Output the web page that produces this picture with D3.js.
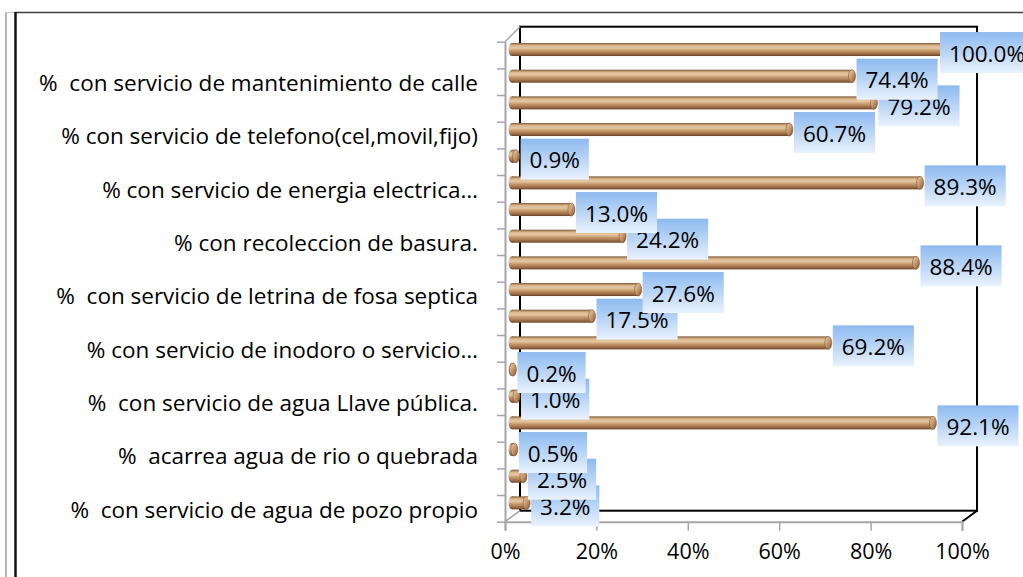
<!DOCTYPE html>
<html>
<head>
<meta charset="utf-8">
<script src="https://cdn.jsdelivr.net/npm/d3@7/dist/d3.min.js"></script>
<style>
  html, body { margin: 0; padding: 0; background: #fff; }
  svg { display: block; font-family: "Open Sans", Lato, sans-serif; }
  svg text { white-space: pre; }
</style>
</head>
<body>
<svg id="bar-chart"></svg>
<script>
// categories from bottom to top; null = label not shown in the picture
const categories = [
  "%  con servicio de agua de pozo propio",
  null,
  "%  acarrea agua de rio o quebrada",
  null,
  "%  con servicio de agua Llave pública.",
  null,
  "% con servicio de inodoro o servicio…",
  null,
  "%  con servicio de letrina de fosa septica",
  null,
  "% con recoleccion de basura.",
  null,
  "% con servicio de energia electrica…",
  null,
  "% con servicio de telefono(cel,movil,fijo)",
  null,
  "%  con servicio de mantenimiento de calle",
  null
];
const values = [3.2, 2.5, 0.5, 92.1, 1.0, 0.2, 69.2, 17.5, 27.6, 88.4, 24.2, 13.0, 89.3, 0.9, 60.7, 79.2, 74.4, 100.0];
const xTicks = [0, 20, 40, 60, 80, 100];

(function() {
  const W = 1023, H = 577;
  const front = { left: 505, right: 962, top: 41.7, bottom: 521.7 };
  const depth = { dx: 15, dy: -11 };
  const chartRight = 1034; // chart area continues a little past the picture edge

  const svg = d3.select("#bar-chart")
    .attr("width", W)
    .attr("height", H);

  const defs = svg.append("defs");
  const barGrad = defs.append("linearGradient")
    .attr("id", "barGrad").attr("x1", 0).attr("y1", 0).attr("x2", 0).attr("y2", 1);
  [["0%", "#7e5634"], ["18%", "#d8b48c"], ["38%", "#e6c7a2"], ["60%", "#c4976a"], ["82%", "#a0714a"], ["100%", "#6a4426"]]
    .forEach(s => barGrad.append("stop").attr("offset", s[0]).attr("stop-color", s[1]));
  const capGrad = defs.append("linearGradient")
    .attr("id", "capGrad").attr("x1", 0).attr("y1", 0).attr("x2", 1).attr("y2", 1);
  [["0%", "#ecd3b0"], ["55%", "#c09066"], ["100%", "#7a5030"]]
    .forEach(s => capGrad.append("stop").attr("offset", s[0]).attr("stop-color", s[1]));
  const boxGrad = defs.append("linearGradient")
    .attr("id", "boxGrad").attr("x1", 0).attr("y1", 0).attr("x2", 0).attr("y2", 1);
  [["0%", "#8dbaf0"], ["50%", "#bad5f6"], ["100%", "#eaf2fd"]]
    .forEach(s => boxGrad.append("stop").attr("offset", s[0]).attr("stop-color", s[1]));

  // outer frame
  svg.append("line").attr("x1", 6).attr("x2", 6).attr("y1", 12).attr("y2", H)
    .style("stroke", "#b4b4b4").style("stroke-width", 2);
  svg.append("line").attr("x1", 5).attr("x2", 16).attr("y1", 12.5).attr("y2", 12.5)
    .style("stroke", "#c8c8c8").style("stroke-width", 1);
  svg.append("line").attr("x1", 15.5).attr("x2", W).attr("y1", 12.5).attr("y2", 12.5)
    .style("stroke", "#404040").style("stroke-width", 1.5);
  svg.append("line").attr("x1", 15.5).attr("x2", 15.5).attr("y1", 12).attr("y2", H)
    .style("stroke", "#111").style("stroke-width", 2.5);

  // scales
  const xFront = d3.scaleLinear().domain([0, 100]).range([front.left, front.right]);
  const x = d3.scaleLinear().domain([0, 100]).range([front.left + 7, front.right + 7]);
  const y = d3.scaleBand()
    .domain(d3.range(categories.length).reverse())
    .range([front.top, front.bottom])
    .padding(0);
  const yEdge = d3.scaleLinear().domain([0, categories.length]).range([front.bottom, front.top]);

  // back wall
  svg.append("rect")
    .attr("x", front.left + depth.dx)
    .attr("y", front.top + depth.dy - 4)
    .attr("width", front.right - front.left)
    .attr("height", front.bottom - front.top + 4)
    .style("fill", "none")
    .style("stroke", "#000")
    .style("stroke-width", 2);

  // side wall and floor edges
  const gray = "#a6a6a6";
  const edges = [
    [front.left, front.top, front.left + depth.dx, front.top + depth.dy - 4],
    [front.left, front.bottom, front.left + depth.dx, front.bottom + depth.dy],
    [front.right, front.bottom, front.right + depth.dx, front.bottom + depth.dy]
  ];
  edges.forEach(e => svg.append("line")
    .attr("x1", e[0]).attr("y1", e[1]).attr("x2", e[2]).attr("y2", e[3])
    .style("stroke", e[0] === front.right ? "#000" : gray).style("stroke-width", e[0] === front.right ? 2 : 1.5));

  // x axis
  const xAxis = svg.append("g")
    .attr("transform", "translate(0," + front.bottom + ")")
    .call(d3.axisBottom(xFront).tickValues(xTicks).tickFormat(d => d + "%").tickSize(9).tickPadding(13));
  xAxis.select(".domain").style("stroke", gray).style("stroke-width", 2);
  xAxis.selectAll(".tick line").style("stroke", gray).style("stroke-width", 1.5);
  xAxis.selectAll("text").style("font-size", "21.5px").style("fill", "#000")
    .style("font-family", "'Open Sans', sans-serif");

  // y axis: boundary ticks
  const yTickAxis = svg.append("g")
    .attr("transform", "translate(" + front.left + ",0)")
    .call(d3.axisLeft(yEdge).tickValues(d3.range(categories.length + 1)).tickFormat("").tickSize(8).tickSizeOuter(0));
  yTickAxis.select(".domain").style("stroke", gray).style("stroke-width", 2);
  yTickAxis.selectAll(".tick line").style("stroke", gray).style("stroke-width", 1.5);

  // y axis: category labels
  const yLabelAxis = svg.append("g")
    .attr("transform", "translate(" + front.left + ",0)")
    .call(d3.axisLeft(y).tickFormat(i => categories[i] || "").tickSize(0).tickPadding(27));
  yLabelAxis.select(".domain").remove();
  yLabelAxis.selectAll("text")
    .attr("dy", "0.42em")
    .style("font-size", "22.5px").style("fill", "#000")
    .style("font-family", "'Open Sans', sans-serif");

  // bars
  const data = values.map((v, i) => ({ i, v }));
  const th = 13;
  const cy = d => y(d.i) + y.bandwidth() / 2 - 5.5;
  const capRx = 3.5;

  const bars = svg.selectAll(".bar")
    .data(data)
    .enter()
    .append("g")
    .attr("class", "bar");

  bars.append("ellipse")
    .attr("cx", x(0))
    .attr("cy", cy)
    .attr("rx", capRx)
    .attr("ry", th / 2)
    .style("fill", "url(#barGrad)");
  bars.append("rect")
    .attr("x", x(0))
    .attr("y", d => cy(d) - th / 2)
    .attr("width", d => Math.max(0, x(d.v) - x(0)))
    .attr("height", th)
    .style("fill", "url(#barGrad)");
  bars.append("ellipse")
    .attr("cx", d => x(d.v))
    .attr("cy", cy)
    .attr("rx", capRx)
    .attr("ry", th / 2)
    .style("fill", "url(#capGrad)")
    .style("stroke", "#7e5634")
    .style("stroke-width", 0.6);

  // value labels
  const labels = svg.selectAll(".value-label")
    .data(data)
    .enter()
    .append("g")
    .attr("class", "value-label");

  labels.append("text")
    .attr("x", 9)
    .attr("y", 0)
    .attr("dy", "0.4em")
    .style("font-size", "22.5px")
    .style("fill", "#000")
    .style("font-family", "'Open Sans', sans-serif")
    .text(d => d.v.toFixed(1) + "%")
    .each(function(d) {
      const w = this.getComputedTextLength() + 18;
      const g = d3.select(this.parentNode);
      g.insert("rect", "text")
        .attr("x", 0)
        .attr("y", -20.5)
        .attr("width", w)
        .attr("height", 41)
        .style("fill", "url(#boxGrad)");
      const lx = Math.min(x(d.v) + capRx + 1, chartRight - w);
      g.attr("transform", "translate(" + lx + "," + (cy(d) + 3) + ")");
    });
})();
</script>
</body>
</html>
